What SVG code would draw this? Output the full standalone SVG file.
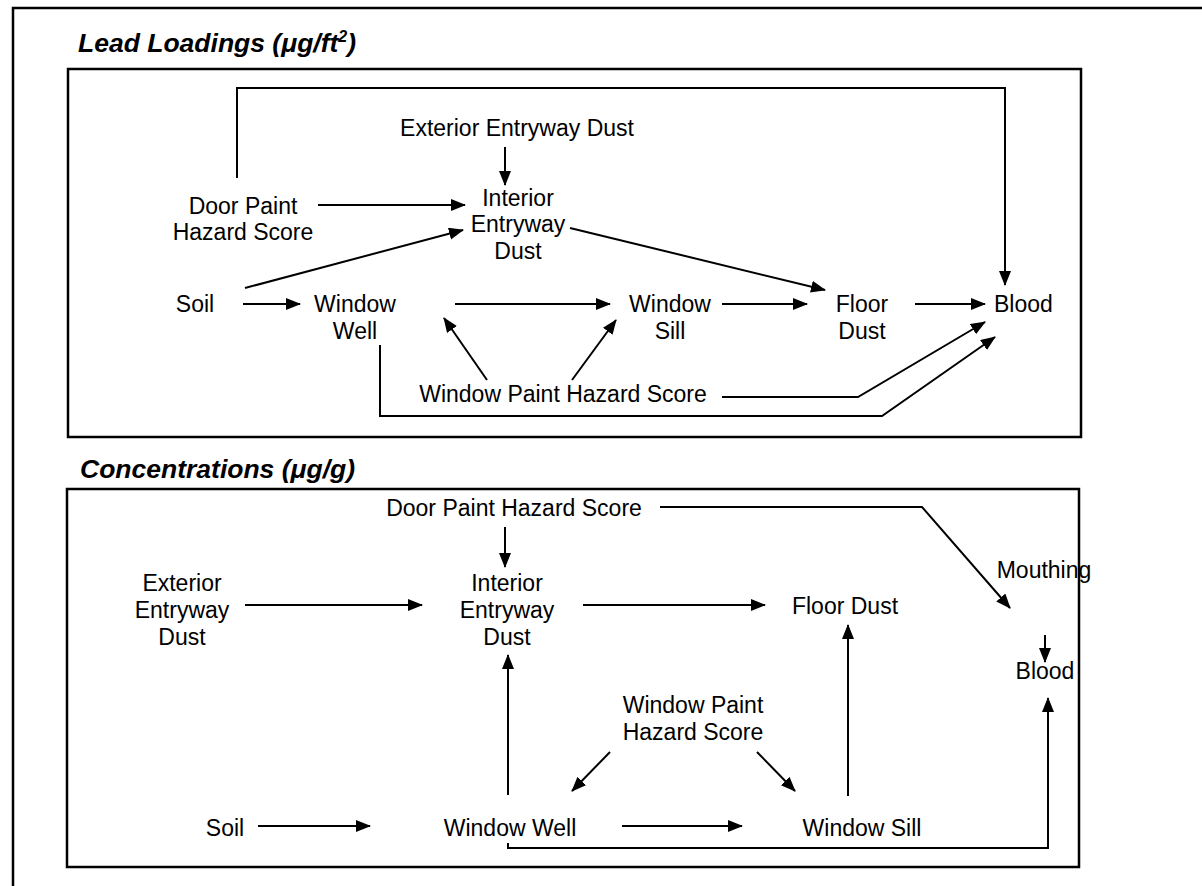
<svg xmlns="http://www.w3.org/2000/svg" width="1202" height="886" viewBox="0 0 1202 886">
<style>
text{font-family:"Liberation Sans",Arial,sans-serif;font-size:23px;fill:#000}
.t{font-weight:bold;font-style:italic;font-size:26.5px}
.m{text-anchor:middle}
.c{fill:none;stroke:#000;stroke-width:2}
.f{fill:none;stroke:#000;stroke-width:2.5}
</style>
<defs>
<marker id="a" markerUnits="userSpaceOnUse" markerWidth="16" markerHeight="14" refX="14" refY="6" orient="auto">
<path d="M0,0 L15,6 L0,12 Z" fill="#000"/>
</marker>
</defs>
<rect width="1202" height="886" fill="#fff"/>
<g id="frame">
<path class="f" d="M13,886 V8 H1202"/>
<rect class="f" x="68" y="69" width="1013" height="368"/>
<rect class="f" x="67" y="489" width="1012" height="378"/>
</g>
<g id="titles">
<text class="t" x="78" y="52">Lead Loadings (μg/ft<tspan font-size="16" dy="-10">2</tspan><tspan dy="10">)</tspan></text>
<text class="t" x="80" y="478">Concentrations (μg/g)</text>
</g>
<g id="upper-nodes">
<g id="u-ext"><text class="m" x="517" y="136">Exterior Entryway Dust</text></g>
<g id="u-door"><text class="m" x="243" y="214">Door Paint</text><text class="m" x="243" y="240">Hazard Score</text></g>
<g id="u-int"><text class="m" x="518" y="206">Interior</text><text class="m" x="518" y="232">Entryway</text><text class="m" x="518" y="259">Dust</text></g>
<g id="u-soil"><text class="m" x="195" y="312">Soil</text></g>
<g id="u-ww"><text class="m" x="355" y="312">Window</text><text class="m" x="355" y="339">Well</text></g>
<g id="u-ws"><text class="m" x="670" y="312">Window</text><text class="m" x="670" y="339">Sill</text></g>
<g id="u-fd"><text class="m" x="862" y="312">Floor</text><text class="m" x="862" y="339">Dust</text></g>
<g id="u-blood"><text x="994" y="312">Blood</text></g>
<g id="u-wphs"><text class="m" x="563" y="402">Window Paint Hazard Score</text></g>
</g>
<g id="lower-nodes">
<g id="l-door"><text class="m" x="514" y="516">Door Paint Hazard Score</text></g>
<g id="l-ext"><text class="m" x="182" y="591">Exterior</text><text class="m" x="182" y="618">Entryway</text><text class="m" x="182" y="645">Dust</text></g>
<g id="l-int"><text class="m" x="507" y="591">Interior</text><text class="m" x="507" y="618">Entryway</text><text class="m" x="507" y="645">Dust</text></g>
<g id="l-fd"><text class="m" x="845" y="614">Floor Dust</text></g>
<g id="l-mouth"><text class="m" x="1044" y="578">Mouthing</text></g>
<g id="l-blood"><text class="m" x="1045" y="679">Blood</text></g>
<g id="l-wphs"><text class="m" x="693" y="713">Window Paint</text><text class="m" x="693" y="740">Hazard Score</text></g>
<g id="l-soil"><text class="m" x="225" y="836">Soil</text></g>
<g id="l-ww"><text class="m" x="510" y="836">Window Well</text></g>
<g id="l-ws"><text class="m" x="862" y="836">Window Sill</text></g>
</g>
<g id="connectors">
<path class="c" d="M237,178 V88 H1005 V285" marker-end="url(#a)"/>
<path class="c" d="M505,147 V185" marker-end="url(#a)"/>
<path class="c" d="M318,205 H465" marker-end="url(#a)"/>
<path class="c" d="M245,288 L463,230" marker-end="url(#a)"/>
<path class="c" d="M243,304 H300" marker-end="url(#a)"/>
<path class="c" d="M455,304 H610" marker-end="url(#a)"/>
<path class="c" d="M722,304 H807" marker-end="url(#a)"/>
<path class="c" d="M915,304 H985" marker-end="url(#a)"/>
<path class="c" d="M570,228 L825,290" marker-end="url(#a)"/>
<path class="c" d="M487,380 L444,318" marker-end="url(#a)"/>
<path class="c" d="M572,380 L616,320" marker-end="url(#a)"/>
<path class="c" d="M722,397 H858 L985,322" marker-end="url(#a)"/>
<path class="c" d="M380,345 V416 H882 L995,337" marker-end="url(#a)"/>
<path class="c" d="M660,507 H922 L1010,608" marker-end="url(#a)"/>
<path class="c" d="M505,527 V567" marker-end="url(#a)"/>
<path class="c" d="M245,605 H422" marker-end="url(#a)"/>
<path class="c" d="M583,605 H765" marker-end="url(#a)"/>
<path class="c" d="M1045,635 V662" marker-end="url(#a)"/>
<path class="c" d="M610,752 L572,791" marker-end="url(#a)"/>
<path class="c" d="M757,752 L795,791" marker-end="url(#a)"/>
<path class="c" d="M258,826 H370" marker-end="url(#a)"/>
<path class="c" d="M622,826 H742" marker-end="url(#a)"/>
<path class="c" d="M848,796 V625" marker-end="url(#a)"/>
<path class="c" d="M508,795 V655" marker-end="url(#a)"/>
<path class="c" d="M508,843 V848 H1048 V698" marker-end="url(#a)"/>
</g>
</svg>
